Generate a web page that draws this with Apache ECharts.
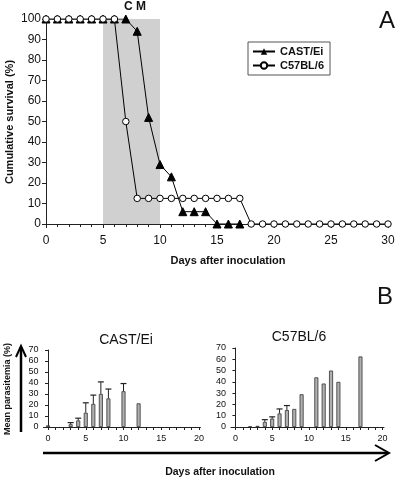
<!DOCTYPE html>
<html><head><meta charset="utf-8">
<script src="https://cdn.jsdelivr.net/npm/echarts@6/dist/echarts.min.js"></script>
<style>html,body{margin:0;padding:0;background:#fff}#c{width:400px;height:480px}</style>
</head><body><div id="c"></div>
<script>
// ---- Panel A data ----
const survivalDays = [0,1,2,3,4,5,6,7,8,9,10,11,12,13,14,15,16,17,18,19,20,21,22,23,24,25,26,27,28,29,30];
const castSurvival = [100,100,100,100,100,100,100,100,94,52,29,23,6,6,6,0,0,0];
const b6Survival = [100,100,100,100,100,100,100,50,12.5,12.5,12.5,12.5,12.5,12.5,12.5,12.5,12.5,12.5,0,0,0,0,0,0,0,0,0,0,0,0,0];
const cmBand = [5,10];
// ---- Panel B data ----
const castDays = [0,3,4,5,6,7,8,10,12];
const castMean = [1.5,2.5,6,13,21,30,26,32.5,21.5];
const castErrTop = [null,4,8,22,29,41,34.5,39.5,null];
const b6Days = [2,3,4,5,6,7,8,9,11,12,13,14,17];
const b6Mean = [0.4,1,4.5,7.5,12,15,16,29,44,38.5,50,40,62.5];
const b6ErrTop = [null,null,6.5,9,16,19,null,null,null,null,null,null,null];
const xTicksA = [0,5,10,15,20,25,30];
const xTicksB = [0,5,10,15,20];
const xMinorB = [0,1,2,3,4,5,6,7,8,9,10,11,12,13,14,15,16,17,18,19,20];

const FONT = 'Liberation Sans';
const pairs = (xs, ys) => ys.map((v,i)=>[xs[i], v]);
const errPairs = (xs, ys, es) => es.map((e,i)=> e==null?null:[xs[i], ys[i], e]).filter(d=>d);

function errRender(params, api){
  const x = api.value(0), lo = api.value(1), hi = api.value(2);
  const p1 = api.coord([x, lo]), p2 = api.coord([x, hi]);
  return {type:'group', children:[
    {type:'line', shape:{x1:p1[0], y1:p1[1], x2:p2[0], y2:p2[1]}, style:{stroke:'#222', lineWidth:1}},
    {type:'line', shape:{x1:p2[0]-3, y1:p2[1], x2:p2[0]+3, y2:p2[1]}, style:{stroke:'#222', lineWidth:1.2}}
  ]};
}

const axisLineStyle = {lineStyle:{color:'#222', width:1}};
const chart = echarts.init(document.getElementById('c'), null, {renderer:'canvas'});
chart.setOption({
  animation:false,
  textStyle:{fontFamily:FONT},
  grid:[
    {left:46, top:19, width:342, height:205, containLabel:false, outerBoundsMode:'none'},
    {left:43.5, top:350, width:157, height:77, containLabel:false, outerBoundsMode:'none'},
    {left:231, top:348, width:153, height:79, containLabel:false, outerBoundsMode:'none'}
  ],
  legend:{
    data:['CAST/Ei','C57BL/6'], orient:'vertical', left:248, top:42,
    borderColor:'#555', borderWidth:1, padding:[4,6,4,4], itemGap:3,
    itemWidth:22, itemHeight:8,
    textStyle:{fontSize:11, fontWeight:'bold', color:'#111', fontFamily:FONT}
  },
  xAxis:[
    {gridIndex:0, type:'value', min:0, max:30, interval:5, axisLine:axisLineStyle,
     axisTick:{show:true, length:4, lineStyle:{color:'#222'}},
     minorTick:{show:true, splitNumber:5, length:3, lineStyle:{color:'#222'}},
     splitLine:{show:false}, axisLabel:{fontSize:12, color:'#111', margin:11}},
    {gridIndex:1, type:'value', min:-0.6, max:20.2, axisLine:axisLineStyle,
     axisTick:{show:true, length:3, lineStyle:{color:'#222'}, customValues:xMinorB},
     splitLine:{show:false}, axisLabel:{fontSize:9, color:'#111', margin:7, customValues:xTicksB}},
    {gridIndex:2, type:'value', min:-0.6, max:20.2, axisLine:axisLineStyle,
     axisTick:{show:true, length:3, lineStyle:{color:'#222'}, customValues:xMinorB},
     splitLine:{show:false}, axisLabel:{fontSize:9, color:'#111', margin:7, customValues:xTicksB}}
  ],
  yAxis:[
    {gridIndex:0, type:'value', min:0, max:100, interval:10, axisLine:{show:true, lineStyle:{color:'#222'}},
     axisTick:{show:true, length:4, lineStyle:{color:'#222'}}, splitLine:{show:false},
     axisLabel:{fontSize:12, color:'#111', margin:5}},
    {gridIndex:1, type:'value', min:0, max:70, interval:10, axisLine:{show:true, lineStyle:{color:'#222'}},
     axisTick:{show:true, length:3, lineStyle:{color:'#222'}}, splitLine:{show:false},
     axisLabel:{fontSize:9, color:'#111', margin:5}},
    {gridIndex:2, type:'value', min:0, max:70, interval:10, axisLine:{show:true, lineStyle:{color:'#222'}},
     axisTick:{show:true, length:3, lineStyle:{color:'#222'}}, splitLine:{show:false},
     axisLabel:{fontSize:9, color:'#111', margin:5}}
  ],
  series:[
    {name:'CAST/Ei', type:'line', xAxisIndex:0, yAxisIndex:0,
     data:pairs(survivalDays, castSurvival), symbol:'triangle', symbolSize:8,
     itemStyle:{color:'#000', borderColor:'#000'}, lineStyle:{color:'#000', width:1},
     markArea:{silent:true, itemStyle:{color:'#d0d0d0'}, data:[[{xAxis:cmBand[0]},{xAxis:cmBand[1]}]]},
     z:3},
    {name:'C57BL/6', type:'line', xAxisIndex:0, yAxisIndex:0,
     data:pairs(survivalDays, b6Survival), symbol:'circle', symbolSize:6.5,
     itemStyle:{color:'#fff', borderColor:'#000', borderWidth:1}, lineStyle:{color:'#000', width:1},
     z:4},
    {name:'castBar', type:'bar', xAxisIndex:1, yAxisIndex:1, data:pairs(castDays, castMean),
     barWidth:4, itemStyle:{color:'#b0b0b0', borderColor:'#333', borderWidth:0.8}},
    {name:'castErr', type:'custom', xAxisIndex:1, yAxisIndex:1, renderItem:errRender,
     data:errPairs(castDays, castMean, castErrTop), z:5},
    {name:'b6Bar', type:'bar', xAxisIndex:2, yAxisIndex:2, data:pairs(b6Days, b6Mean),
     barWidth:4, itemStyle:{color:'#b0b0b0', borderColor:'#333', borderWidth:0.8}},
    {name:'b6Err', type:'custom', xAxisIndex:2, yAxisIndex:2, renderItem:errRender,
     data:errPairs(b6Days, b6Mean, b6ErrTop), z:5}
  ],
  graphic:[
    {type:'text', left:124, top:1, style:{text:'C M', font:'bold 12px '+FONT, fill:'#111'}},
    {type:'text', left:379, top:9, style:{text:'A', font:'24px '+FONT, fill:'#111'}},
    {type:'text', left:377, top:285, style:{text:'B', font:'24px '+FONT, fill:'#111'}},
    {type:'text', x:10, y:122, rotation:Math.PI/2, style:{text:'Cumulative survival (%)', font:'bold 11px '+FONT, fill:'#111', align:'center', verticalAlign:'middle'}},
    {type:'text', x:228, y:261, style:{text:'Days after inoculation', font:'bold 11px '+FONT, fill:'#111', align:'center', verticalAlign:'middle'}},
    {type:'text', x:126, y:340, style:{text:'CAST/Ei', font:'14px '+FONT, fill:'#111', align:'center', verticalAlign:'middle'}},
    {type:'text', x:299, y:337, style:{text:'C57BL/6', font:'14px '+FONT, fill:'#111', align:'center', verticalAlign:'middle'}},
    {type:'text', x:8, y:389, rotation:Math.PI/2, style:{text:'Mean parasitemia (%)', font:'bold 9px '+FONT, fill:'#111', align:'center', verticalAlign:'middle'}},
    {type:'line', shape:{x1:21, y1:432, x2:21, y2:347}, style:{stroke:'#000', lineWidth:2.5}},
    {type:'polyline', shape:{points:[[16,357],[21,346],[26,357]]}, style:{stroke:'#000', lineWidth:2, fill:null}},
    {type:'line', shape:{x1:43, y1:453, x2:388, y2:453}, style:{stroke:'#000', lineWidth:2.5}},
    {type:'polyline', shape:{points:[[375,445],[389,453],[375,461]]}, style:{stroke:'#000', lineWidth:2, fill:null}},
    {type:'text', x:220, y:472, style:{text:'Days after inoculation', font:'bold 10.5px '+FONT, fill:'#111', align:'center', verticalAlign:'middle'}}
  ]
});
</script></body></html>
